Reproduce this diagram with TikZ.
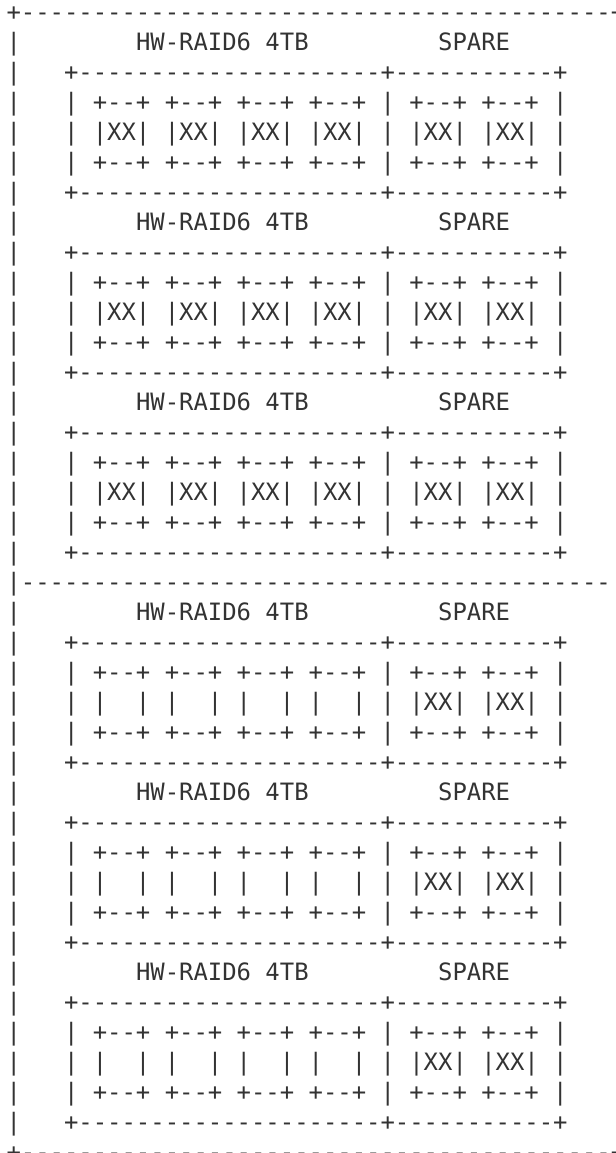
\documentclass[tikz,border=0pt]{standalone}
\usepackage{fontspec}
\setmonofont{DejaVu Sans Mono}
\usepackage{xcolor}
\usepackage{tikz}

\definecolor{inkgray}{HTML}{333333}
\tikzset{asciirow/.style={anchor=base west, inner sep=0pt, text=inkgray, font=\ttfamily\fontsize{11.95pt}{15pt}\selectfont}}

% one row of the drawing each
\newcommand\tendash{----------}
\newcommand\asciiedge{+\tendash\tendash\tendash\tendash-+}
\newcommand\asciisplit{|\tendash\tendash\tendash\tendash-}
\newcommand\asciititle{|~~~~~~~~HW-RAID6~4TB~~~~~~~~~SPARE}
\newcommand\asciiframe{|~~~+\tendash\tendash-+\tendash-+}
\newcommand\asciicaps{|~~~|~+--+~+--+~+--+~+--+~|~+--+~+--+~|}
\newcommand\asciifull{|~~~|~|XX|~|XX|~|XX|~|XX|~|~|XX|~|XX|~|}
\newcommand\asciiempty{|~~~|~|~~|~|~~|~|~~|~|~~|~|~|XX|~|XX|~|}

\begin{document}
\begin{tikzpicture}[x=0.5pt, y=-0.5pt]
		\useasboundingbox (0, 0) rectangle (616, 1153);
		\clip (0, 0) rectangle (616, 1153);
		% Upper half, filled groups:
		\node[asciirow] (r1) at (6.1, 20){\asciiedge};
		\node[asciirow] (r2) at (6.1, 50){\asciititle};
		\node[asciirow] (r3) at (6.1, 80){\asciiframe};
		\node[asciirow] (r4) at (6.1, 110){\asciicaps};
		\node[asciirow] (r5) at (6.1, 140){\asciifull};
		\node[asciirow] (r6) at (6.1, 170){\asciicaps};
		\node[asciirow] (r7) at (6.1, 200){\asciiframe};
		\node[asciirow] (r8) at (6.1, 230){\asciititle};
		\node[asciirow] (r9) at (6.1, 260){\asciiframe};
		\node[asciirow] (r10) at (6.1, 290){\asciicaps};
		\node[asciirow] (r11) at (6.1, 320){\asciifull};
		\node[asciirow] (r12) at (6.1, 350){\asciicaps};
		\node[asciirow] (r13) at (6.1, 380){\asciiframe};
		\node[asciirow] (r14) at (6.1, 410){\asciititle};
		\node[asciirow] (r15) at (6.1, 440){\asciiframe};
		\node[asciirow] (r16) at (6.1, 470){\asciicaps};
		\node[asciirow] (r17) at (6.1, 500){\asciifull};
		\node[asciirow] (r18) at (6.1, 530){\asciicaps};
		\node[asciirow] (r19) at (6.1, 560){\asciiframe};
		\node[asciirow] (r20) at (6.1, 590){\asciisplit};
		% Lower half, empty groups:
		\node[asciirow] (r21) at (6.1, 620){\asciititle};
		\node[asciirow] (r22) at (6.1, 650){\asciiframe};
		\node[asciirow] (r23) at (6.1, 680){\asciicaps};
		\node[asciirow] (r24) at (6.1, 710){\asciiempty};
		\node[asciirow] (r25) at (6.1, 740){\asciicaps};
		\node[asciirow] (r26) at (6.1, 770){\asciiframe};
		\node[asciirow] (r27) at (6.1, 800){\asciititle};
		\node[asciirow] (r28) at (6.1, 830){\asciiframe};
		\node[asciirow] (r29) at (6.1, 860){\asciicaps};
		\node[asciirow] (r30) at (6.1, 890){\asciiempty};
		\node[asciirow] (r31) at (6.1, 920){\asciicaps};
		\node[asciirow] (r32) at (6.1, 950){\asciiframe};
		\node[asciirow] (r33) at (6.1, 980){\asciititle};
		\node[asciirow] (r34) at (6.1, 1010){\asciiframe};
		\node[asciirow] (r35) at (6.1, 1040){\asciicaps};
		\node[asciirow] (r36) at (6.1, 1070){\asciiempty};
		\node[asciirow] (r37) at (6.1, 1100){\asciicaps};
		\node[asciirow] (r38) at (6.1, 1130){\asciiframe};
		\node[asciirow] (r39) at (6.1, 1160){\asciiedge};
	\end{tikzpicture}
\end{document}
